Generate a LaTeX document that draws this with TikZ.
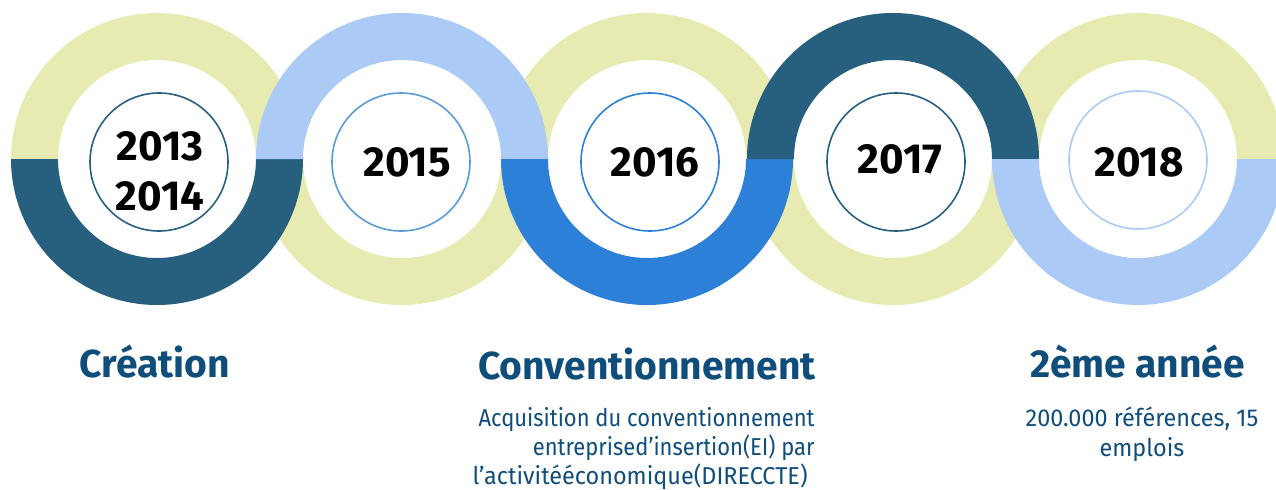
\documentclass[tikz,border=0pt]{standalone}
\usepackage{fontspec}
\setmainfont{Fira Sans}
\newfontfamily\descfont{Fira Sans}[FakeStretch=0.90]
\newfontfamily\descfontw{Fira Sans}[FakeStretch=0.96]
\usetikzlibrary{calc}
\definecolor{ylw}{HTML}{E8EBB1}
\definecolor{dteal}{HTML}{27607F}
\definecolor{lblue}{HTML}{ABCBF6}
\definecolor{mblue}{HTML}{2C80D8}
\definecolor{cblue}{HTML}{5B9BD5}
\definecolor{txtblue}{HTML}{0F4D7B}
\newcommand\halfring[4]{%
  \fill[#2] ($(#1)+(#3:146)$) arc[start angle=#3,delta angle=180,radius=146]
    -- ($(#1)+(#4:99)$) arc[start angle=#4,delta angle=-180,radius=99] -- cycle;}
\begin{document}
\begin{tikzpicture}[x=0.5pt,y=0.5pt,
  yearc/.style={circle,line width=0.8pt,minimum size=69pt,inner sep=0pt},
  yeart/.style={font=\fontsize{21}{25}\selectfont\bfseries,text=black,align=center},
  head/.style={font=\fontsize{19.5}{23}\selectfont\bfseries,text=txtblue,anchor=base},
  desc/.style={font=\descfont\fontsize{12.2}{14.5}\selectfont,text=txtblue},
  descw/.style={font=\descfontw\fontsize{12.2}{15}\selectfont,text=txtblue}]
\useasboundingbox (0,0) rectangle (1276,489);
\clip (0,0) rectangle (1276,489);
\coordinate (r1) at (157,330);
\coordinate (r2) at (402,330);
\coordinate (r3) at (647,330);
\coordinate (r4) at (893,330);
\coordinate (r5) at (1138,330);
% pale halves
\halfring{r1}{ylw}{0}{180}
\halfring{r2}{ylw}{180}{360}
\halfring{r3}{ylw}{0}{180}
\halfring{r4}{ylw}{180}{360}
\halfring{r5}{ylw}{0}{180}
% coloured halves
\halfring{r1}{dteal}{180}{360}
\halfring{r2}{lblue}{0}{180}
\halfring{r3}{mblue}{180}{360}
\halfring{r4}{dteal}{0}{180}
\halfring{r5}{lblue}{180}{360}
% inner circles
\node[yearc,draw=dteal] (c1) at (159,327) {};
\node[yearc,draw=cblue] (c2) at (401,327) {};
\node[yearc,draw=mblue] (c3) at (650,327) {};
\node[yearc,draw=dteal] (c4) at (896,327) {};
\node[yearc,draw=lblue] (c5) at (1138,329) {};
% years
\node[yeart] (t1) at (160,318) {2013\\2014};
\node[yeart] (t2) at (407,327) {2015};
\node[yeart] (t3) at (655,327) {2016};
\node[yeart] (t4) at (900,330) {2017};
\node[yeart] (t5) at (1139,327) {2018};
% headings
\node[head] (h1) at (155,112) {Création};
\node[head] (h2) at (647,110) {Conventionnement};
\node[head] (h3) at (1138,112) {2ème année};
% descriptions
\node[desc,align=right,anchor=north east,inner sep=0pt] (d2) at (815,82)
  {Acquisition du conventionnement\\entreprised’insertion(EI) par\hspace*{4pt}\\{\descfontw l’activitééconomique(DIRECCTE)}\hspace*{3.5pt}};
\node[descw,align=center,anchor=north,inner sep=0pt] (d3) at (1142,82)
  {200.000 références, 15\\emplois};
\end{tikzpicture}
\end{document}
